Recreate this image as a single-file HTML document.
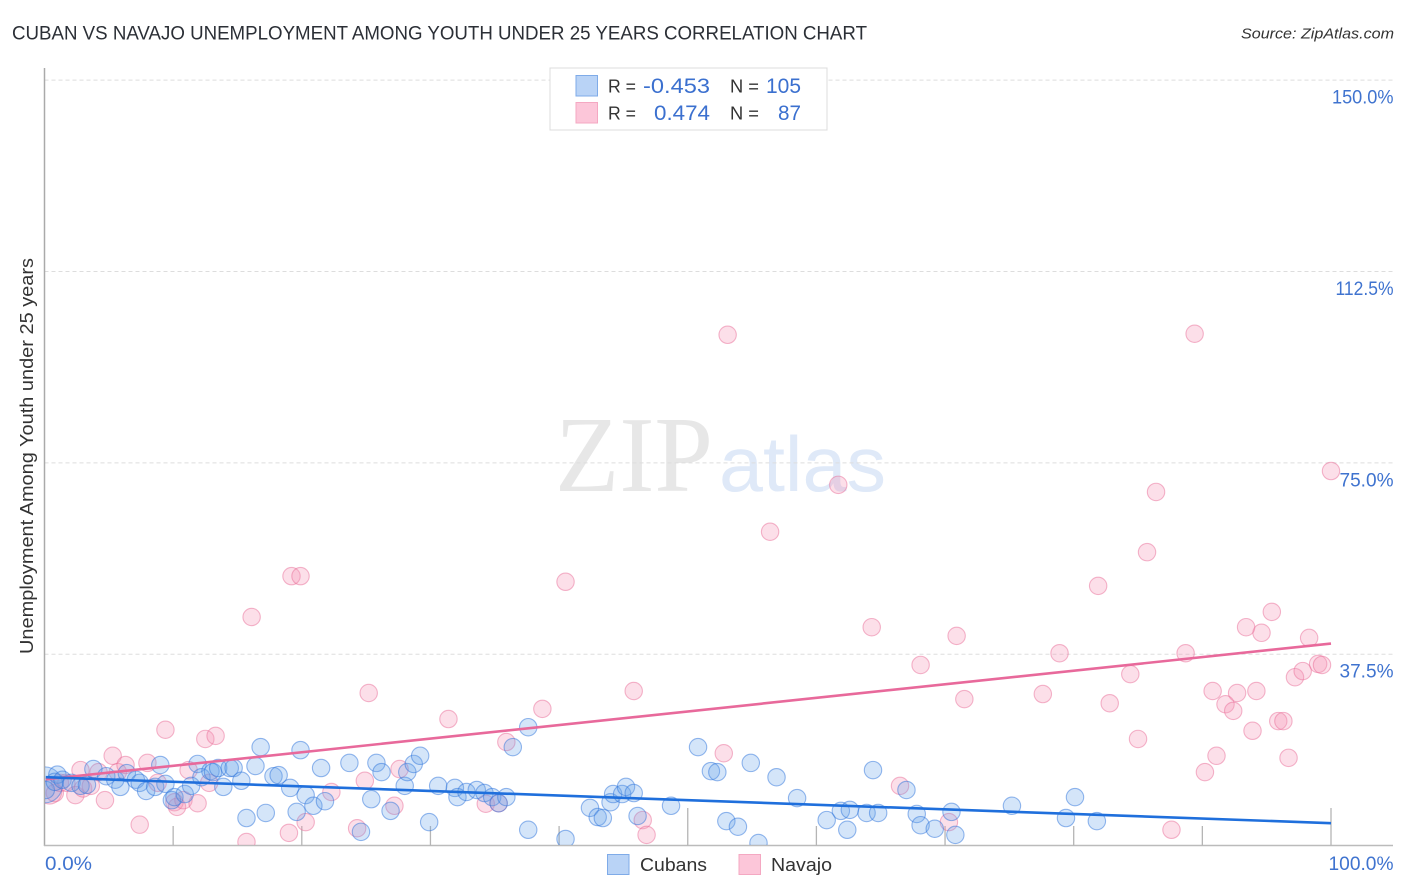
<!DOCTYPE html>
<html lang="en">
<head>
<meta charset="utf-8">
<title>Cuban vs Navajo Unemployment Correlation Chart</title>
<style>
html,body{margin:0;padding:0;background:#fff;width:1406px;height:892px;overflow:hidden}
svg{display:block;font-family:"Liberation Sans",sans-serif}
</style>
</head>
<body>
<svg id="chart" xmlns="http://www.w3.org/2000/svg" width="1406" height="892" viewBox="0 0 1406 892">
  <defs>
    <clipPath id="plot-clip"><rect x="45" y="60" width="1350" height="785"/></clipPath>
  </defs>
  <text x="12" y="39.5" font-size="19" fill="#2b2f36" textLength="855" lengthAdjust="spacingAndGlyphs">CUBAN VS NAVAJO UNEMPLOYMENT AMONG YOUTH UNDER 25 YEARS CORRELATION CHART</text>
  <text x="1394" y="38.5" font-size="15" font-style="italic" fill="#333" text-anchor="end" textLength="153" lengthAdjust="spacingAndGlyphs">Source: ZipAtlas.com</text>
  <text transform="translate(33,456) rotate(-90)" font-size="18" fill="#333" text-anchor="middle" textLength="396" lengthAdjust="spacingAndGlyphs">Unemployment Among Youth under 25 years</text>

  <g>
    <text x="555" y="491" font-family="'Liberation Serif',serif" font-size="108" fill="#e7e7e7" textLength="158" lengthAdjust="spacingAndGlyphs">ZIP</text>
    <text x="719" y="491" font-size="78" fill="#dfe9f8" textLength="167" lengthAdjust="spacingAndGlyphs">atlas</text>
  </g>

  <g id="grid"></g>
  <g id="axes"></g>
  <g id="points" clip-path="url(#plot-clip)"></g>
  <g id="trends"></g>
  <g id="labels"></g>

  <g>
    <rect x="550" y="68" width="277" height="62" fill="#fff" stroke="#dcdcdc" stroke-width="1"/>
    <rect x="576" y="75.5" width="21.5" height="20.5" fill="#b9d3f6" stroke="#7fabe8" stroke-width="1"/>
    <rect x="576" y="102.5" width="21.5" height="20.5" fill="#fcc6d9" stroke="#f4a8c2" stroke-width="1"/>
    <text x="608" y="92.5" font-size="18" fill="#333" textLength="28" lengthAdjust="spacingAndGlyphs">R =</text>
    <text x="710" y="93" font-size="21" fill="#3b70cf" text-anchor="end" textLength="67" lengthAdjust="spacingAndGlyphs">-0.453</text>
    <text x="730" y="92.5" font-size="18" fill="#333" textLength="29" lengthAdjust="spacingAndGlyphs">N =</text>
    <text x="801" y="93" font-size="21" fill="#3b70cf" text-anchor="end" textLength="35" lengthAdjust="spacingAndGlyphs">105</text>
    <text x="608" y="119.5" font-size="18" fill="#333" textLength="28" lengthAdjust="spacingAndGlyphs">R =</text>
    <text x="710" y="120" font-size="21" fill="#3b70cf" text-anchor="end" textLength="56" lengthAdjust="spacingAndGlyphs">0.474</text>
    <text x="730" y="119.5" font-size="18" fill="#333" textLength="29" lengthAdjust="spacingAndGlyphs">N =</text>
    <text x="801" y="120" font-size="21" fill="#3b70cf" text-anchor="end" textLength="23" lengthAdjust="spacingAndGlyphs">87</text>
  </g>

  <g>
    <rect x="607.5" y="854.5" width="21.5" height="20" fill="#b9d3f6" stroke="#7fabe8" stroke-width="1"/>
    <text x="640" y="871" font-size="18.5" fill="#333" textLength="67" lengthAdjust="spacingAndGlyphs">Cubans</text>
    <rect x="739" y="854.5" width="21.5" height="20" fill="#fcc6d9" stroke="#f4a8c2" stroke-width="1"/>
    <text x="771" y="871" font-size="18.5" fill="#333" textLength="61" lengthAdjust="spacingAndGlyphs">Navajo</text>
  </g>
</svg>

<script>
const yTickValues = [37.5, 75, 112.5, 150];
const yTickLabels = ["37.5%", "75.0%", "112.5%", "150.0%"];
const xTickValues = [0, 10, 20, 30, 40, 50, 60, 70, 80, 90, 100];
const xEndLabels = ["0.0%", "100.0%"];

const cubanX = [0.0,0.1,1.0,0.8,1.4,2.1,2.8,3.3,3.8,4.8,5.5,5.9,6.4,7.1,7.4,7.9,8.6,9.0,9.4,9.9,10.1,10.9,11.4,11.9,12.2,12.9,13.1,13.9,13.5,14.4,14.7,15.3,16.4,16.8,15.7,17.2,17.8,18.2,19.1,19.6,19.9,20.3,20.9,21.5,21.8,23.7,25.8,26.2,28.0,26.9,28.2,28.7,29.2,25.4,24.6,29.9,30.6,31.9,32.1,32.8,33.6,34.2,34.8,35.3,35.9,37.6,36.4,37.6,40.5,42.4,43.0,43.4,44.0,44.2,44.9,45.2,45.8,46.1,48.7,50.8,51.8,52.3,54.9,56.9,58.5,53.0,53.9,55.5,60.8,61.9,62.6,63.9,64.8,62.4,64.4,67.0,67.8,68.1,69.2,70.5,70.8,75.2,80.1,79.4,81.8];
const cubanY = [11.9,10.9,13.9,12.5,12.9,12.3,11.7,11.9,15.0,13.6,12.9,11.5,14.2,12.9,12.3,10.7,11.5,15.8,12.1,8.9,9.5,10.1,11.7,16.0,13.4,14.6,14.4,11.5,15.2,15.2,15.2,12.7,15.6,19.3,5.4,6.4,13.6,13.8,11.3,6.6,18.7,9.9,7.8,15.2,8.7,16.2,16.2,14.4,11.7,6.8,14.4,16.0,17.6,9.1,2.7,4.6,11.7,11.3,9.5,10.5,10.9,10.3,9.5,8.3,9.5,23.2,19.3,3.1,1.3,7.4,5.6,5.4,8.5,10.1,10.1,11.5,10.3,5.8,7.8,19.3,14.6,14.4,16.2,13.4,9.3,4.8,3.7,0.5,5.0,6.8,7.0,6.4,6.4,3.1,14.8,10.9,6.2,4.0,3.3,6.6,2.1,7.8,9.5,5.4,4.8];

const navajoX = [0.4,0.8,1.2,1.7,2.4,2.8,3.0,3.6,4.2,4.7,5.3,5.7,6.3,7.4,8.0,8.8,9.4,10.1,10.3,10.8,11.2,11.9,12.5,13.3,12.8,15.7,19.0,20.3,22.3,25.2,24.9,24.3,27.6,27.2,31.4,38.7,35.9,34.3,35.3,45.8,46.5,46.8,52.8,66.5,70.3,68.1,71.5,77.6,70.9,78.9,88.7,84.4,82.8,85.0,90.2,91.1,87.6,90.8,92.7,94.2,91.8,92.4,93.9,95.9,96.3,96.7,97.2,97.8,99.0,99.3,98.3,94.6,93.4,95.4,81.9,85.7,86.4,100,89.4,53.1,61.7,56.4,40.5,19.2,19.9,16.1,64.3];
const navajoY = [10.5,10.3,12.3,12.3,9.9,14.8,11.2,11.7,14.4,8.9,17.6,14.4,15.8,4.1,16.2,12.3,22.7,8.5,7.6,8.9,14.8,8.3,20.9,21.5,12.3,0.7,2.5,4.6,10.5,29.9,12.7,3.4,15.0,7.8,24.8,26.8,20.3,8.2,8.3,30.3,5.0,2.1,18.1,11.7,4.6,35.4,28.7,29.7,41.1,37.7,37.7,33.6,27.9,20.9,14.4,17.6,3.1,30.3,29.9,30.3,27.7,26.4,22.5,24.4,24.4,17.2,33.0,34.2,35.6,35.4,40.7,41.7,42.8,45.8,50.9,57.5,69.3,73.4,100.3,100.1,70.7,61.5,51.7,52.8,52.8,44.8,42.8];

const cubanTrend = [13.4, 4.4];
const navajoTrend = [13.0, 39.6];

const NS = "http://www.w3.org/2000/svg";
function sx(v) { return 44.5 + v * 12.865; }
function sy(v) { return 845.6 - v * 5.103; }

const gridGroup = document.getElementById("grid");
const axesGroup = document.getElementById("axes");
const pointsGroup = document.getElementById("points");
const trendGroup = document.getElementById("trends");
const labelGroup = document.getElementById("labels");

function make(tag, attrs, parent) {
  const el = document.createElementNS(NS, tag);
  for (const k in attrs) el.setAttribute(k, attrs[k]);
  parent.appendChild(el);
  return el;
}

/* horizontal space of each label in the reference typeface */
function labelWidth(text) {
  let w = 0;
  for (const ch of text) {
    w += ch === "%" ? 16.5 : ch === "." ? 4.5 : ch === "1" ? 7.5 : 11;
  }
  return w;
}

yTickValues.forEach(function (v, i) {
  const line = make("line", { x1: 44.5, x2: 1393, y1: sy(v), y2: sy(v), stroke: "#dddddd", "stroke-width": 1, "stroke-dasharray": "4 3" }, gridGroup);
  
  
  const label = make("text", { x: 1393.5, y: sy(v) + 23.5, "font-size": 19, fill: "#3f73cf", "text-anchor": "end", textLength: labelWidth(yTickLabels[i]), lengthAdjust: "spacingAndGlyphs" }, labelGroup);
  
  
  label.textContent = yTickLabels[i];
});

const yAxisLine = make("line", { x1: 44.5, x2: 44.5, y1: 68, y2: 846, stroke: "#aaaaaa", "stroke-width": 1.5 }, axesGroup);


const xAxisLine = make("line", { x1: 44, x2: 1393, y1: 845.5, y2: 845.5, stroke: "#bbbbbb", "stroke-width": 1.5 }, axesGroup);



xTickValues.forEach(function (v) {
  if (v === 0) return;
  const top = v % 50 === 0 ? 808 : 826;
  const tick = make("line", { x1: sx(v), x2: sx(v), y1: top, y2: 845.5, stroke: "#b5b5b5", "stroke-width": 1.3 }, axesGroup);
  
  
});

const xStart = make("text", { x: 45, y: 870, "font-size": 19, fill: "#3f73cf", textLength: 47, lengthAdjust: "spacingAndGlyphs" }, labelGroup);


xStart.textContent = xEndLabels[0];
const xEnd = make("text", { x: 1393.5, y: 870, "font-size": 19, fill: "#3f73cf", "text-anchor": "end", textLength: 65, lengthAdjust: "spacingAndGlyphs" }, labelGroup);


xEnd.textContent = xEndLabels[1];

navajoX.forEach(function (v, i) {
  const c = make("circle", { cx: sx(v), cy: sy(navajoY[i]), r: i === 0 ? 12 : 8.7, fill: "rgba(245,150,182,0.3)", stroke: "rgba(233,105,148,0.48)", "stroke-width": 1.1 }, pointsGroup);
  
  
});
cubanX.forEach(function (v, i) {
  const c = make("circle", { cx: sx(v), cy: sy(cubanY[i]), r: i === 0 ? 18 : 8.7, fill: "rgba(100,160,235,0.28)", stroke: "rgba(45,115,220,0.5)", "stroke-width": 1.1 }, pointsGroup);
  
  
});

const navajoLine = make("line", { x1: sx(0.1), x2: sx(100), y1: sy(navajoTrend[0]), y2: sy(navajoTrend[1]), stroke: "#e8699b", "stroke-width": 2.6, "stroke-linecap": "butt" }, trendGroup);


const cubanLine = make("line", { x1: sx(0.1), x2: sx(100), y1: sy(cubanTrend[0]), y2: sy(cubanTrend[1]), stroke: "#1f6fdc", "stroke-width": 2.6, "stroke-linecap": "butt" }, trendGroup);


</script>
</body>
</html>
